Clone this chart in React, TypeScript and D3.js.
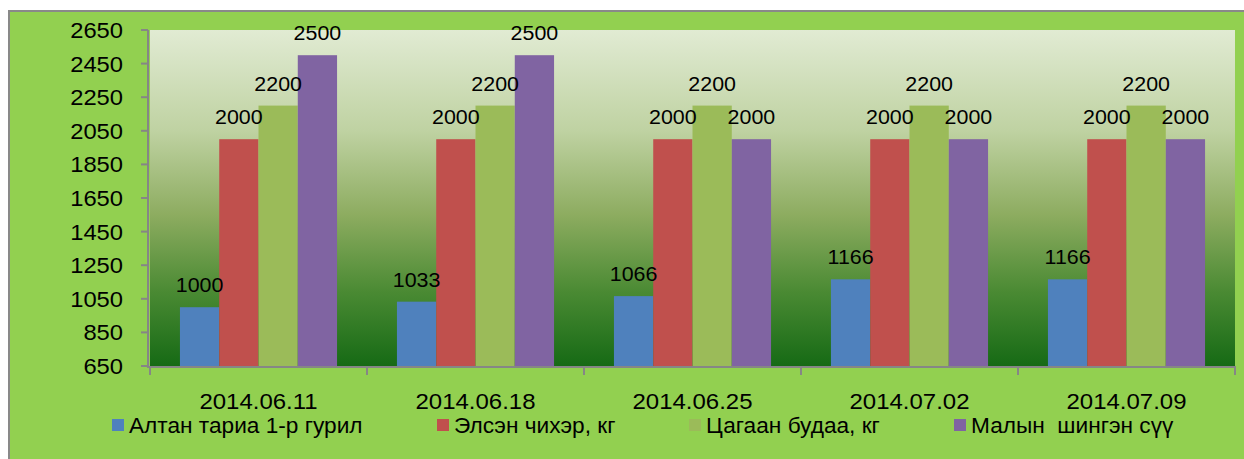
import { scaleBand, scaleLinear } from "d3";

const categories = ["2014.06.11", "2014.06.18", "2014.06.25", "2014.07.02", "2014.07.09"];
const seriesNames = ["Алтан тариа 1-р гурил", "Элсэн чихэр, кг", "Цагаан будаа, кг", "Малын  шингэн сүү"];
const flour = [1000, 1033, 1066, 1166, 1166];
const sugar = [2000, 2000, 2000, 2000, 2000];
const rice = [2200, 2200, 2200, 2200, 2200];
const milk = [2500, 2500, 2000, 2000, 2000];
const yTicks = [650, 850, 1050, 1250, 1450, 1650, 1850, 2050, 2250, 2450, 2650];

const colors = ["#4F81BD", "#C0504D", "#9BBB59", "#8064A2"];
const series = [flour, sugar, rice, milk];

const W = 1244;
const H = 459;
const plot = { left: 150, right: 1235, top: 30, bottom: 366 };
const legendX = [112, 437, 689, 954];
const font = "'Liberation Sans', Arial, sans-serif";

// text slightly widened, like the original renderer
function Label({ x, y, size, sx, anchor, children }: any) {
  return (
    <text
      transform={`translate(${x},${y}) scale(${sx},1)`}
      textAnchor={anchor}
      fontSize={size}
      fill="#000"
      style={{ whiteSpace: "pre" }}
    >
      {children}
    </text>
  );
}

function App() {
  const x0 = scaleBand<string>()
    .domain(categories)
    .range([plot.left, plot.right])
    .paddingInner(0.276)
    .paddingOuter(0.138);
  const x1 = scaleBand<number>()
    .domain(series.map((_, i) => i))
    .range([0, x0.bandwidth()]);
  const y = scaleLinear().domain([650, 2650]).range([plot.bottom, plot.top]);
  const step = x0.step();
  const edges = categories.map((_, i) => plot.left + i * step).concat([plot.right]);

  return (
    <svg
      width={W}
      height={H}
      style={{ position: "absolute", left: 0, top: 0, fontFamily: font }}
    >
      <defs>
        <linearGradient id="plotGrad" x1="0" y1="0" x2="0" y2="1">
          <stop offset="0%" stopColor="#e1ebd3" />
          <stop offset="30%" stopColor="#bfd2a2" />
          <stop offset="55%" stopColor="#8dac60" />
          <stop offset="78%" stopColor="#4a8a33" />
          <stop offset="100%" stopColor="#166a15" />
        </linearGradient>
      </defs>
      <rect x={0} y={0} width={W} height={H} fill="#ffffff" />
      <rect x={9} y={11} width={W} height={H} fill="#92D050" stroke="#898989" strokeWidth={2} />
      <rect
        x={plot.left}
        y={plot.top}
        width={plot.right - plot.left}
        height={plot.bottom - plot.top}
        fill="url(#plotGrad)"
      />

      {/* bars */}
      {categories.map((c, ci) => (
        <g key={c} transform={`translate(${x0(c)},0)`}>
          {series.map((s, si) => (
            <rect
              key={si}
              x={x1(si)}
              y={y(s[ci])}
              width={x1.bandwidth()}
              height={plot.bottom - y(s[ci])}
              fill={colors[si]}
            />
          ))}
        </g>
      ))}

      {/* y axis */}
      <line x1={148} x2={148} y1={plot.top} y2={plot.bottom + 1} stroke="#868686" strokeWidth={2} />
      {yTicks.map((t) => (
        <g key={t}>
          <line x1={141} x2={148} y1={y(t)} y2={y(t)} stroke="#868686" strokeWidth={2} />
          <Label x={123} y={y(t) + 8} size={22} sx={1.08} anchor="end">
            {t}
          </Label>
        </g>
      ))}

      {/* x axis */}
      <line x1={147} x2={plot.right} y1={plot.bottom + 1} y2={plot.bottom + 1} stroke="#868686" strokeWidth={2} />
      {edges.map((e, i) => (
        <line key={i} x1={e} x2={e} y1={plot.bottom} y2={plot.bottom + 9} stroke="#868686" strokeWidth={2} />
      ))}
      {categories.map((c) => (
        <Label key={c} x={(x0(c) ?? 0) + x0.bandwidth() / 2} y={409} size={22} sx={1.09} anchor="middle">
          {c}
        </Label>
      ))}

      {/* data labels */}
      {categories.map((c, ci) =>
        series.map((s, si) => (
          <Label
            key={`${c}-${si}`}
            x={(x0(c) ?? 0) + (x1(si) ?? 0) + x1.bandwidth() / 2}
            y={y(s[ci]) - 15}
            size={20}
            sx={1.07}
            anchor="middle"
          >
            {s[ci]}
          </Label>
        ))
      )}

      {/* legend */}
      {seriesNames.map((n, i) => (
        <g key={n}>
          <rect x={legendX[i]} y={419} width={12} height={12} fill={colors[i]} />
          <Label x={legendX[i] + 17} y={433} size={22} sx={1.03} anchor="start">
            {n}
          </Label>
        </g>
      ))}
    </svg>
  );
}

export default App;
